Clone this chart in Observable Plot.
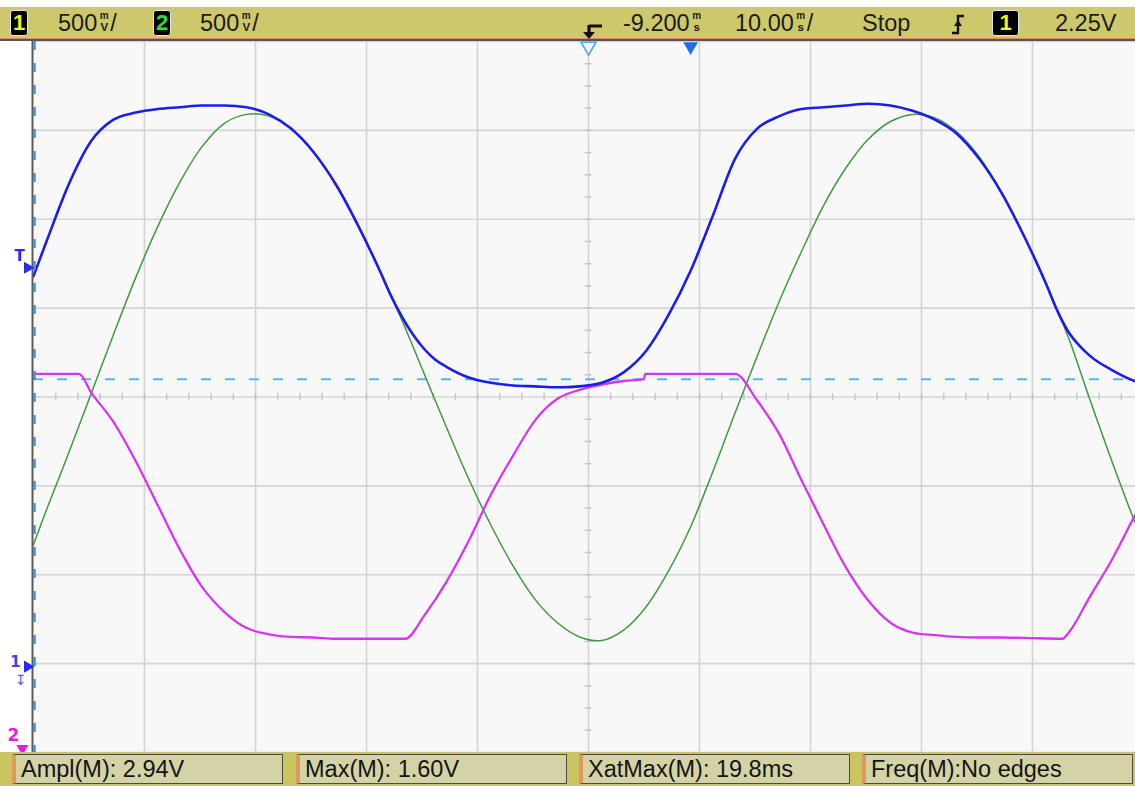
<!DOCTYPE html>
<html>
<head>
<meta charset="utf-8">
<script src="https://cdn.jsdelivr.net/npm/d3@7"></script>
<script src="https://cdn.jsdelivr.net/npm/@observablehq/plot@0.6"></script>
<style>
  body { margin: 0; background: #fff; width: 1135px; height: 786px; overflow: hidden;
         font-family: "Liberation Sans", Arial, sans-serif; }
  #top { position: relative; height: 41px; background: #fff; }
  #bar { position: absolute; left: 0; top: 7px; width: 1135px; height: 32px; background: #cdc86c;
         border-bottom: 2px solid #56525f; box-shadow: inset 0 -1px 0 #d99060; }
  .lbl { position: absolute; top: 0; line-height: 32px; font-size: 23.5px; color: #1c1c1c; white-space: nowrap; }
  .ch { position: absolute; top: 3px; height: 26px; box-sizing: border-box; background: #000;
        border: 1.5px solid #e4e4e4; border-radius: 3px; text-align: center;
        font-size: 22px; line-height: 24px; font-weight: bold; }
  .u { display: inline-block; text-align: center; margin: 0 1px 0 2px; font-weight: bold; min-width: 10px; }
  .u i { display: block; font-style: normal; }
  .u i.a { font-size: 10px; line-height: 11.5px; }
  .u i.b { font-size: 11.5px; line-height: 13.2px; }
  #scope { width: 1135px; height: 711px; overflow: hidden; }
  #scope svg { max-width: none; }
  #bottom { position: relative; height: 34px; background: #c9c561; }
  .m { position: absolute; top: 2px; width: 271px; height: 30px; box-sizing: border-box; background: #d4d3a6;
       border: 1px solid #4a4a48; border-left: 4px solid #df9a5a; font-size: 23.5px; line-height: 28px;
       padding-left: 5px; color: #151515; white-space: nowrap; }
</style>
</head>
<body>
<div id="top">
  <div id="bar">
    <div class="ch" style="left:10px;width:18px;color:#f2f21c">1</div>
    <div class="lbl" style="left:58px">500<span class="u"><i class="a">m</i><i class="b">V</i></span>/</div>
    <div class="ch" style="left:153px;width:18px;color:#2ee02e">2</div>
    <div class="lbl" style="left:200px">500<span class="u"><i class="a">m</i><i class="b">V</i></span>/</div>
    <svg style="position:absolute;left:580px;top:14px" width="26" height="20">
      <path d="M9 5 H22 M9 4 V12" stroke="#111" stroke-width="3.2" fill="none"/>
      <path d="M3 11 H15 L9 18 Z" fill="#111"/>
    </svg>
    <div class="lbl" style="left:623px">-9.200<span class="u"><i class="a">m</i><i class="b">s</i></span></div>
    <div class="lbl" style="left:735px">10.00<span class="u"><i class="a">m</i><i class="b">s</i></span>/</div>
    <div class="lbl" style="left:862px">Stop</div>
    <svg style="position:absolute;left:948px;top:4px" width="20" height="26">
      <path d="M4 22 H10 V5 H16" stroke="#111" stroke-width="2.4" fill="none"/>
      <path d="M6 15 L10 9 L14 15 Z" fill="#111"/>
    </svg>
    <div class="ch" style="left:992px;width:27px;color:#f2f21c">1</div>
    <div class="lbl" style="left:1055px">2.25V</div>
  </div>
</div>
<div id="scope"></div>
<div id="bottom"></div>
<script>
// Horizontal: 10 ms/div around a -9.200 ms delay. Vertical: volts on channel 1 (500 mV/div).
const timeDivs = [-59.2, -49.2, -39.2, -29.2, -19.2, -9.2, 0.8, 10.8, 20.8, 30.8, 40.8];
const voltDivs = [-0.5, 0, 0.5, 1, 1.5, 2, 2.5, 3, 3.5];
const centerTime = -9.2;
const centerVolt = 1.5;
const triggerTime = 0;
const triggerLevel = 2.25;
const ch1Ground = 0;
const maxLevel = 1.60;

// Channel 1 (blue): clipped sine, [ms, V]
const ch1Trace = [
  [-59.2,2.18],[-58,2.38],[-56,2.70],[-54,2.94],[-52,3.06],[-50,3.10],[-48,3.12],[-46,3.13],
  [-44,3.14],[-42,3.14],[-40,3.13],[-38,3.09],[-36,3.01],[-34,2.88],[-32,2.70],[-30,2.47],
  [-28,2.21],[-27,2.07],[-26,1.95],[-25,1.85],[-24,1.77],[-23,1.71],[-22,1.67],[-20,1.61],
  [-18,1.58],[-16,1.565],[-14,1.56],[-12,1.555],[-10,1.56],[-8,1.58],[-6,1.64],[-4,1.76],
  [-2,1.96],[0,2.21],[2,2.52],[4,2.84],[6,3.01],[8,3.08],[10,3.12],[12,3.13],[14,3.14],
  [16,3.15],[18,3.14],[20,3.11],[22,3.06],[24,2.98],[26,2.84],[28,2.65],[30,2.41],[32,2.14],
  [33,1.99],[34,1.87],[35,1.79],[36,1.73],[38,1.65],[40,1.59],[40.8,1.575]
];

// Channel 2 (green): sine, [ms, V]
const ch2Trace = [
  [-59.2,0.67],[-58,0.87],[-56,1.19],[-54,1.52],[-52,1.85],[-50,2.17],[-48,2.46],[-46,2.71],
  [-44,2.91],[-42,3.04],[-40,3.09],[-38,3.08],[-36,3.01],[-34,2.88],[-32,2.70],[-30,2.47],
  [-28,2.21],[-26,1.93],[-24,1.63],[-22,1.33],[-20,1.04],[-18,0.78],[-16,0.55],[-14,0.36],
  [-12,0.23],[-10,0.15],[-8,0.13],[-6,0.19],[-4,0.32],[-2,0.52],[0,0.77],[2,1.08],[4,1.41],
  [6,1.73],[8,2.04],[10,2.32],[12,2.58],[14,2.79],[16,2.95],[18,3.05],[20,3.09],[22,3.07],
  [24,2.99],[26,2.85],[28,2.65],[30,2.41],[32,2.14],[34,1.84],[36,1.48],[38,1.13],[40,0.80],
  [40.8,0.68]
];

// Math (magenta): limited waveform, [ms, V]
const mathTrace = [
  [-59.2,1.63],[-55.1,1.63],[-54,1.525],[-52,1.36],[-50,1.14],[-48,0.89],[-46,0.64],[-44,0.43],
  [-42,0.29],[-40,0.20],[-38,0.165],[-36,0.15],[-34,0.147],[-32,0.14],[-30,0.14],[-28,0.14],
  [-25.7,0.14],[-24,0.27],[-22,0.46],[-20,0.69],[-18,0.95],[-16,1.17],[-14,1.37],[-12,1.49],
  [-10,1.54],[-8,1.57],[-6,1.59],[-4.2,1.60],[-4.1,1.63],[4.0,1.63],[6,1.48],[8,1.29],
  [10,1.03],[12,0.78],[14,0.54],[16,0.355],[18,0.23],[20,0.175],[22,0.16],[24,0.15],
  [26,0.147],[28,0.147],[30,0.145],[33.5,0.14],[34,0.17],[36,0.38],[38,0.59],[40,0.83],
  [40.8,0.92]
];

// Measurement readouts
const measNames = ["Ampl(M)", "Max(M)", "XatMax(M)", "Freq(M)"];
const measValues = [": 2.94V", ": 1.60V", ": 19.8ms", ":No edges"];

const timeMinor = d3.range(timeDivs[0], timeDivs[timeDivs.length - 1] + 0.01, 2);
const voltMinor = d3.range(voltDivs[0], voltDivs[voltDivs.length - 1] + 0.01, 0.125);

const blue = "#1c1cee", green = "#3f9a40", magenta = "#d636f2";

const chart = Plot.plot({
  width: 1143,
  height: 711,
  marginLeft: 33, marginRight: 0, marginTop: 0, marginBottom: 0,
  x: {domain: [timeDivs[0], timeDivs[timeDivs.length - 1]], axis: null},
  y: {domain: [voltDivs[0], voltDivs[voltDivs.length - 1]], axis: null},
  style: {background: "#ffffff", overflow: "visible", maxWidth: "none"},
  marks: [
    Plot.frame({fill: "#f8f8f8", stroke: null}),
    // graticule
    Plot.ruleX(timeDivs.slice(1), {stroke: "#d4d4d4", strokeWidth: 1.6}),
    Plot.ruleY(voltDivs, {stroke: "#d4d4d4", strokeWidth: 1.6}),
    Plot.ruleX(timeMinor, {x: d => d, y1: centerVolt - 0.018, y2: centerVolt + 0.018, stroke: "#c4c4c4", strokeWidth: 1.5}),
    Plot.ruleY(voltMinor, {y: d => d, x1: centerTime - 0.3, x2: centerTime + 0.3, stroke: "#c4c4c4", strokeWidth: 1.5}),
    // measurement level
    Plot.ruleY([maxLevel], {stroke: "#5cb4f0", strokeWidth: 2, strokeDasharray: "10,14"}),
    // traces
    Plot.line(ch2Trace, {x: d => d[0], y: d => d[1], stroke: green, strokeWidth: 1.5, curve: "catmull-rom"}),
    Plot.line(mathTrace, {x: d => d[0], y: d => d[1], stroke: magenta, strokeWidth: 2.3, curve: "monotone-x"}),
    Plot.line(ch1Trace, {x: d => d[0], y: d => d[1], stroke: blue, strokeWidth: 2.6, curve: "monotone-x"}),
    // left edge
    Plot.ruleX([timeDivs[0]], {stroke: "#5a5a5a", strokeWidth: 2, dx: -1}),
    Plot.ruleX([timeDivs[0]], {stroke: "#3d8ff0", strokeWidth: 2.5, dx: 1, strokeDasharray: "9,13"}),
    // trigger level marker
    Plot.text(["T"], {x: timeDivs[0], y: triggerLevel, text: d => d, dx: -14, dy: -8, fill: "#2a2af0",
      fontSize: 15, fontWeight: "bold", fontFamily: "DejaVu Sans"}),
    Plot.dot(["T"], {x: timeDivs[0], y: triggerLevel, dx: -6, dy: 4, symbol: "triangle", rotate: 90, r: 4.5, fill: "#2a2af0"}),
    // channel 1 ground marker
    Plot.text(["1"], {x: timeDivs[0], y: ch1Ground, text: d => d, dx: -18, dy: -1, fill: "#4040f0",
      fontSize: 15, fontWeight: "bold", fontFamily: "DejaVu Sans"}),
    Plot.text(["↧"], {x: timeDivs[0], y: ch1Ground, text: d => d, dx: -13, dy: 17, fill: "#4f5cf0",
      fontSize: 14, fontFamily: "DejaVu Sans"}),
    Plot.dot(["1"], {x: timeDivs[0], y: ch1Ground, dx: -6, dy: 3, symbol: "triangle", rotate: 90, r: 4.5, fill: "#2a2af0"}),
    // channel 2 marker (offset below the screen)
    Plot.text(["2"], {frameAnchor: "bottom-left", text: d => d, dx: -20, dy: -17, textAnchor: "middle",
      lineAnchor: "middle", fill: "#e020e0", fontSize: 17, fontWeight: "bold", fontFamily: "DejaVu Sans"}),
    Plot.dot(["2"], {frameAnchor: "bottom-left", dx: -11, dy: -4, symbol: "triangle", rotate: 180, r: 4.5, fill: "#e020e0"}),
    // time reference and trigger position markers
    Plot.dot([centerTime], {x: d => d, frameAnchor: "top", dy: 5, symbol: "triangle", rotate: 180, r: 5.5,
      stroke: "#48a8f0", strokeWidth: 1.6, fill: "#f8f8f8"}),
    Plot.dot([triggerTime], {x: d => d, frameAnchor: "top", dy: 5, symbol: "triangle", rotate: 180, r: 5.5, fill: "#1f6fe8"})
  ]
});
document.getElementById("scope").appendChild(chart);

// measurement readout boxes
const bottom = document.getElementById("bottom");
const boxLeft = [12, 296, 579, 862];
measNames.forEach((name, i) => {
  const box = document.createElement("div");
  box.className = "m";
  box.style.left = boxLeft[i] + "px";
  box.textContent = name + measValues[i];
  bottom.appendChild(box);
});
</script>
</body>
</html>
